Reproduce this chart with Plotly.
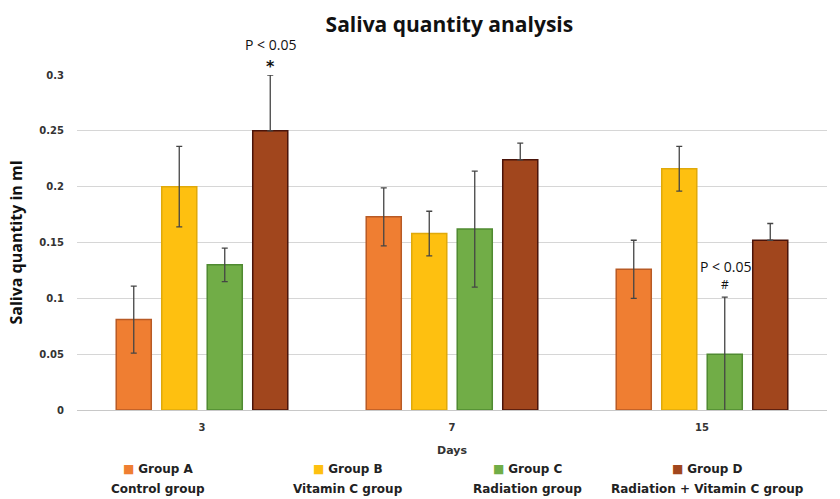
import plotly.graph_objects as go

days = ["3", "7", "15"]
groups = ["Group A", "Group B", "Group C", "Group D"]
subtitles = ["Control group", "Vitamin C group", "Radiation group", "Radiation + Vitamin C group"]

group_a = [0.081, 0.173, 0.126]
group_b = [0.200, 0.158, 0.216]
group_c = [0.130, 0.162, 0.050]
group_d = [0.250, 0.224, 0.152]

err_a = [0.030, 0.026, 0.026]
err_b = [0.036, 0.020, 0.020]
err_c = [0.015, 0.052, 0.051]
err_d = [0.050, 0.015, 0.015]

values = [group_a, group_b, group_c, group_d]
errors = [err_a, err_b, err_c, err_d]
colors = ["#EF7E32", "#FEC010", "#71AD47", "#A1461D"]
borders = ["#B85A25", "#E0A90A", "#4F8A31", "#4A140A"]

fig = go.Figure()
for name, vals, errs, col, bcol in zip(groups, values, errors, colors, borders):
    minus = [0 for _ in errs] if name == "Group D" else errs
    fig.add_trace(go.Bar(
        x=days, y=vals, name=name,
        marker=dict(color=col, line=dict(color=bcol, width=1.5)),
        error_y=dict(type="data", array=errs, arrayminus=minus, symmetric=False,
                     color="#454545", thickness=1.3, width=3),
        cliponaxis=False,
    ))

fig.update_layout(
    width=840, height=499,
    barmode="group", bargap=0.272, bargroupgap=0.23,
    plot_bgcolor="white", paper_bgcolor="white",
    showlegend=False,
    margin=dict(l=77, r=13, t=75, b=89),
    title=dict(text="<b>Saliva quantity analysis</b>", x=0.535, xanchor="center",
               y=0.95, yanchor="middle",
               font=dict(family="Open Sans", size=21, color="#111111")),
    xaxis=dict(type="category", range=[-0.5, 2.5],
               title=dict(text="<b>Days</b>", font=dict(family="DejaVu Sans", size=11, color="#333333"),
                          standoff=14),
               tickfont=dict(family="DejaVu Sans", size=10, color="#333333"),
               tickprefix="<b>", ticksuffix="</b>",
               ticklabelstandoff=10,
               showline=False, ticks=""),
    yaxis=dict(title=dict(text="<b>Saliva quantity in ml</b>", font=dict(family="Open Sans", size=16, color="#111111"),
                          standoff=12),
               range=[0, 0.3], dtick=0.05, tickformat="~g",
               tickprefix="<b>", ticksuffix="</b>",
               tickfont=dict(family="DejaVu Sans", size=10, color="#333333"),
               gridcolor="#D6D6D6", gridwidth=1.3, zeroline=True, zerolinecolor="#C8C8C8",
               zerolinewidth=1.3, ticklabelstandoff=12),
)

# significance labels (x given as category index)
fig.add_annotation(xref="x", yref="paper", x=0, xshift=68, y=1.0, yshift=42,
                   text="P < 0.05", showarrow=False,
                   font=dict(family="Open Sans", size=14, color="#111111"))
fig.add_annotation(xref="x", yref="paper", x=0, xshift=68, y=1.0, yshift=20,
                   text="<b>*</b>", showarrow=False,
                   font=dict(family="DejaVu Sans", size=16, color="#111111"))
fig.add_annotation(xref="x", yref="y", x=2, xshift=23, y=0.101, yshift=31,
                   text="P < 0.05", showarrow=False,
                   font=dict(family="Open Sans", size=14, color="#111111"))
fig.add_annotation(xref="x", yref="y", x=2, xshift=23, y=0.101, yshift=13,
                   text="#", showarrow=False,
                   font=dict(family="Open Sans", size=12, color="#111111"))

# legend as annotations
centers = [158, 348, 527, 707]
for name, sub, col, cx in zip(groups, subtitles, colors, centers):
    fig.add_annotation(xref="paper", yref="paper", x=(cx - 77) / 750, y=-(469 - 410) / 335,
                       xanchor="center", yanchor="middle", showarrow=False,
                       text=f"<span style='color:{col}'>■</span> <b>{name}</b>",
                       font=dict(family="DejaVu Sans", size=12, color="#222222"))
    fig.add_annotation(xref="paper", yref="paper", x=(cx - 77) / 750, y=-(489 - 410) / 335,
                       xanchor="center", yanchor="middle", showarrow=False,
                       text=f"<b>{sub}</b>",
                       font=dict(family="DejaVu Sans", size=12, color="#222222"))

fig.write_html("out.html", config={"displayModeBar": False},
               post_script="document.body.style.margin='0';document.body.style.overflow='hidden';")
